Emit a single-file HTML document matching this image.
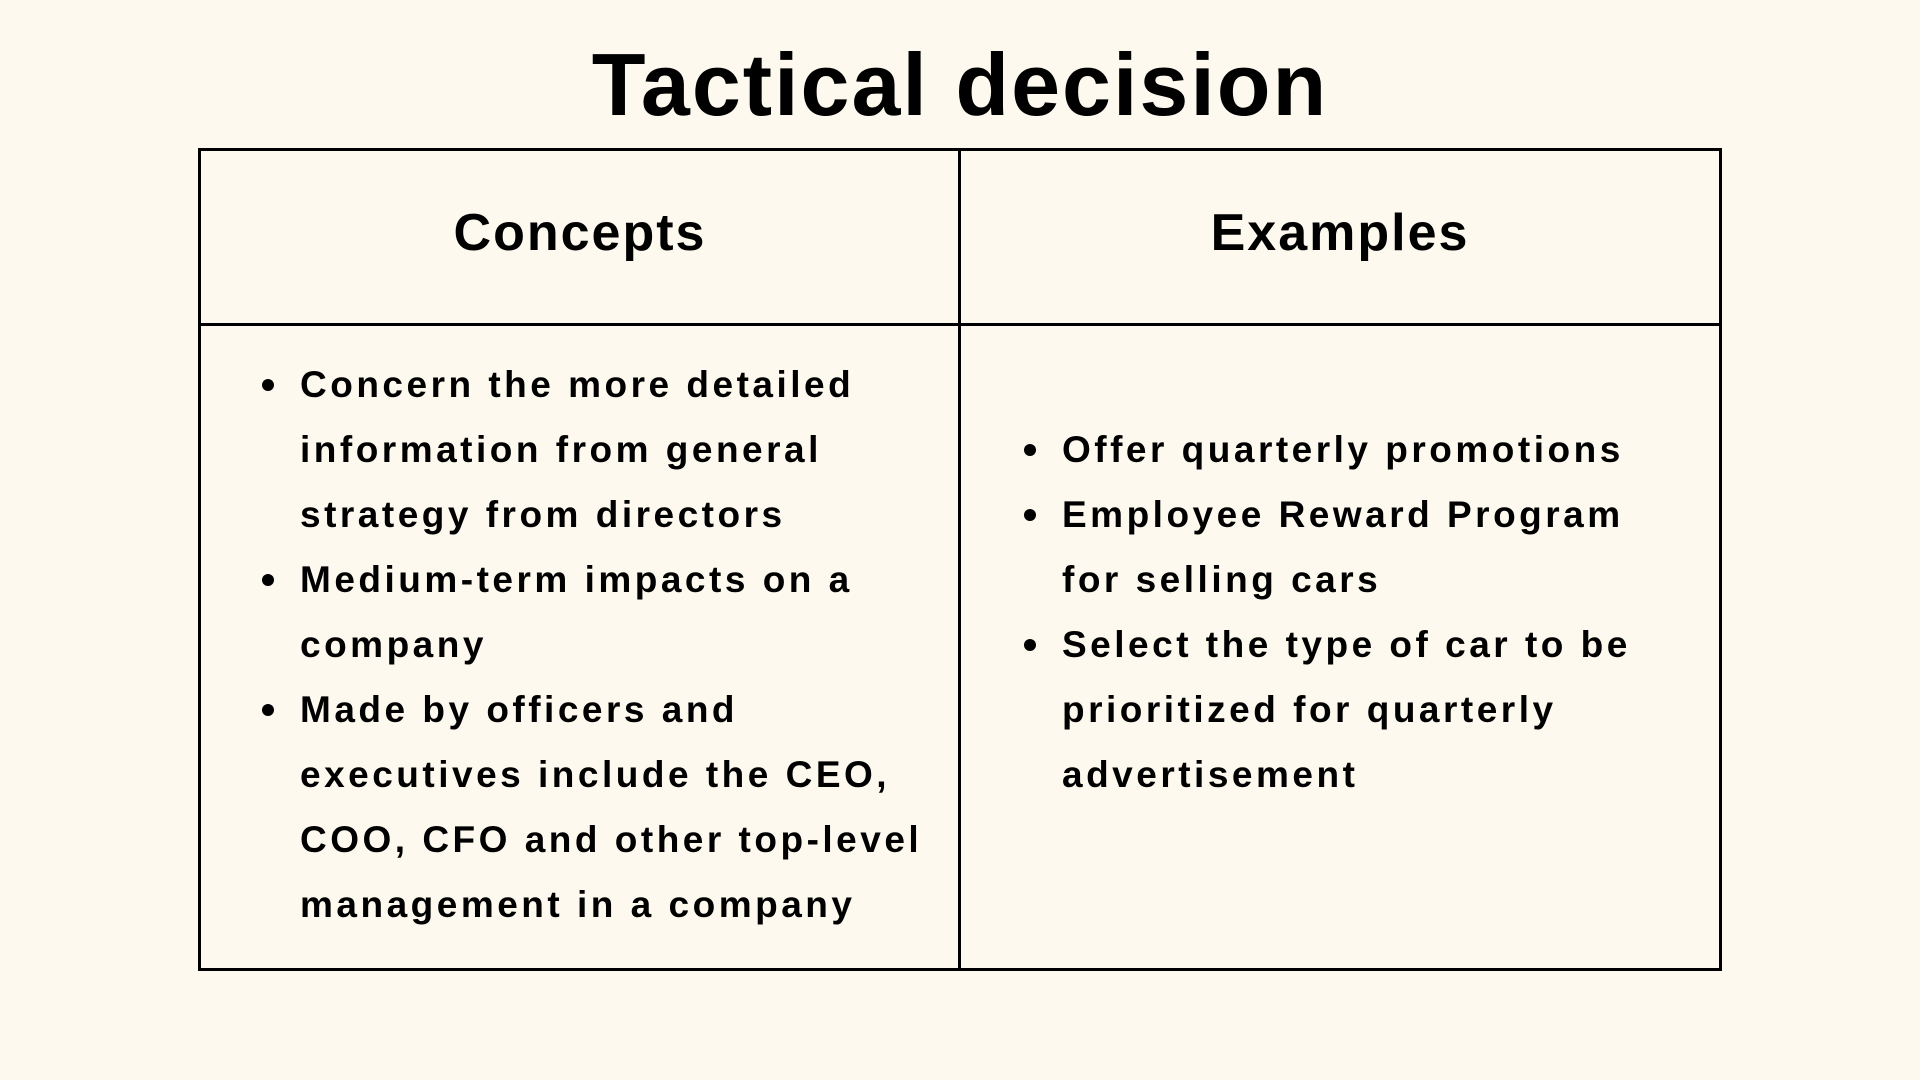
<!DOCTYPE html>
<html><head><meta charset="utf-8"><style>
body{margin:0;width:1920px;height:1080px;background:#fdf9ef;font-family:"Liberation Sans",sans-serif;color:#000;position:relative;overflow:hidden}
.t{position:absolute;left:0;width:1920px;text-align:center;top:34px;font-size:88px;font-weight:bold;letter-spacing:2px}
.tbl{position:absolute;left:198px;top:148px;width:1524px;height:823px;border:3px solid #000;box-sizing:border-box}
.vl{position:absolute;left:958px;top:148px;width:3px;height:823px;background:#000}
.hl{position:absolute;left:198px;top:323px;width:1524px;height:3px;background:#000}
.h{position:absolute;top:198px;font-size:52px;font-weight:bold;text-align:center;width:760px;line-height:70px;letter-spacing:2px}
ul{position:absolute;margin:0;padding:0;list-style:none;font-size:37px;font-weight:bold;line-height:65px;letter-spacing:3.5px}
li{position:relative;padding-left:0}
li::before{content:"";position:absolute;left:-38px;top:27px;width:12px;height:12px;border-radius:50%;background:#000}
</style></head><body>
<div class="t">Tactical decision</div>
<div class="tbl"></div>
<div class="vl"></div>
<div class="hl"></div>
<div class="h" style="left:200px">Concepts</div>
<div class="h" style="left:960px">Examples</div>
<ul style="left:300px;top:352px;width:660px;white-space:nowrap">
<li>Concern the more detailed<br>information from general<br>strategy from directors</li>
<li>Medium-term impacts on a<br>company</li>
<li>Made by officers and<br>executives include the CEO,<br>COO, CFO and other top-level<br>management in a company</li>
</ul>
<ul style="left:1062px;top:417px;width:660px;white-space:nowrap">
<li>Offer quarterly promotions</li>
<li>Employee Reward Program<br>for selling cars</li>
<li>Select the type of car to be<br>prioritized for quarterly<br>advertisement</li>
</ul>
</body></html>
